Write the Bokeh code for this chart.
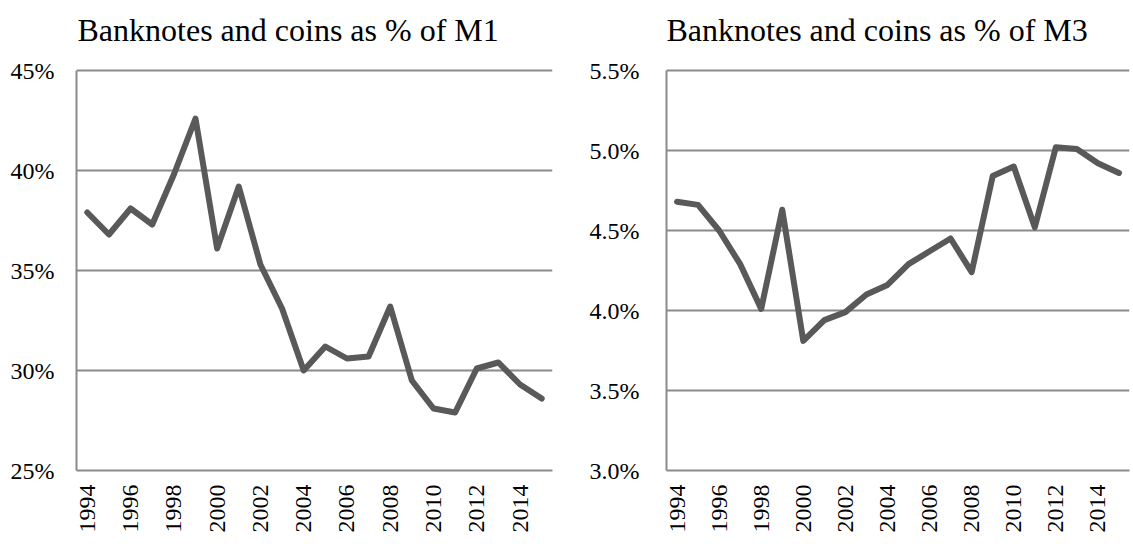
from bokeh.plotting import figure
from bokeh.layouts import row
from bokeh.models import FixedTicker, PrintfTickFormatter, Range1d, Label
from bokeh.embed import file_html
from bokeh.resources import INLINE
import math

years = list(range(1994, 2016))
m1_share = [37.9, 36.8, 38.1, 37.3, 39.8, 42.6, 36.1, 39.2, 35.3, 33.1, 30.0,
            31.2, 30.6, 30.7, 33.2, 29.5, 28.1, 27.9, 30.1, 30.4, 29.3, 28.6]
m3_share = [4.68, 4.66, 4.50, 4.29, 4.01, 4.63, 3.81, 3.94, 3.99, 4.10, 4.16,
            4.29, 4.37, 4.45, 4.24, 4.84, 4.90, 4.52, 5.02, 5.01, 4.92, 4.86]
year_ticks = list(range(1994, 2016, 2))
m1_ticks = [25, 30, 35, 40, 45]
m3_ticks = [3.0, 3.5, 4.0, 4.5, 5.0, 5.5]
titles = ["Banknotes and coins as % of M1", "Banknotes and coins as % of M3"]

FONT = "Liberation Serif"
GRID = "#8a8a8a"
LINE = "#595959"
PLOT_H = 400      # px height of the value area
TOP_PAD = 70      # px above the value area that hold the title
TITLE_UP = 41     # title baseline above the value area, px
X0, X1 = 1993.5, 2015.5


def make(title, y, yticks, fmt, frame_w, border_left, border_right, title_dx, label_standoff):
    lo, hi = yticks[0], yticks[-1]
    per_px = (hi - lo) / PLOT_H
    p = figure(frame_width=frame_w, frame_height=PLOT_H + TOP_PAD, output_backend="svg",
               toolbar_location=None,
               x_range=Range1d(X0, X1),
               y_range=Range1d(lo, hi + TOP_PAD * per_px),
               min_border_left=border_left, min_border_right=border_right,
               min_border_top=0, min_border_bottom=72)
    p.outline_line_color = None
    p.xgrid.grid_line_color = None
    p.ygrid.grid_line_color = GRID
    p.ygrid.grid_line_width = 2
    p.ygrid.ticker = FixedTicker(ticks=yticks)

    p.yaxis.ticker = FixedTicker(ticks=yticks)
    p.yaxis.bounds = (lo, hi)
    p.yaxis.formatter = PrintfTickFormatter(format=fmt)
    p.xaxis.ticker = FixedTicker(ticks=year_ticks)
    p.xaxis.major_label_orientation = math.pi / 2
    for ax in (p.xaxis, p.yaxis):
        ax.axis_line_color = GRID
        ax.axis_line_width = 2
        ax.major_tick_line_color = None
        ax.minor_tick_line_color = None
        ax.major_tick_out = 0
        ax.major_tick_in = 0
        ax.minor_tick_out = 0
        ax.major_label_text_font = FONT
        ax.major_label_text_font_size = "24px"
        ax.major_label_text_color = "#000000"
    p.yaxis.major_label_standoff = label_standoff
    p.xaxis.major_label_standoff = 14

    p.line(years, y, line_color=LINE, line_width=6, line_join="round", line_cap="round")

    ty = hi + TITLE_UP * per_px
    tx = X0 + title_dx / frame_w * (X1 - X0)
    p.add_layout(Label(x=tx, y=ty, text=title, text_font=FONT, text_font_size="32px",
                       text_color="#000000", text_align="left", text_baseline="alphabetic"))
    return p


p1 = make(titles[0], m1_share, m1_ticks, "%d%%", 476, 76, 8, 1, 22)
p2 = make(titles[1], m3_share, m3_ticks, "%.1f%%", 463, 106, 2, 0, 27)

layout = row(p1, p2)
open("out.html", "w").write(file_html(layout, INLINE))
